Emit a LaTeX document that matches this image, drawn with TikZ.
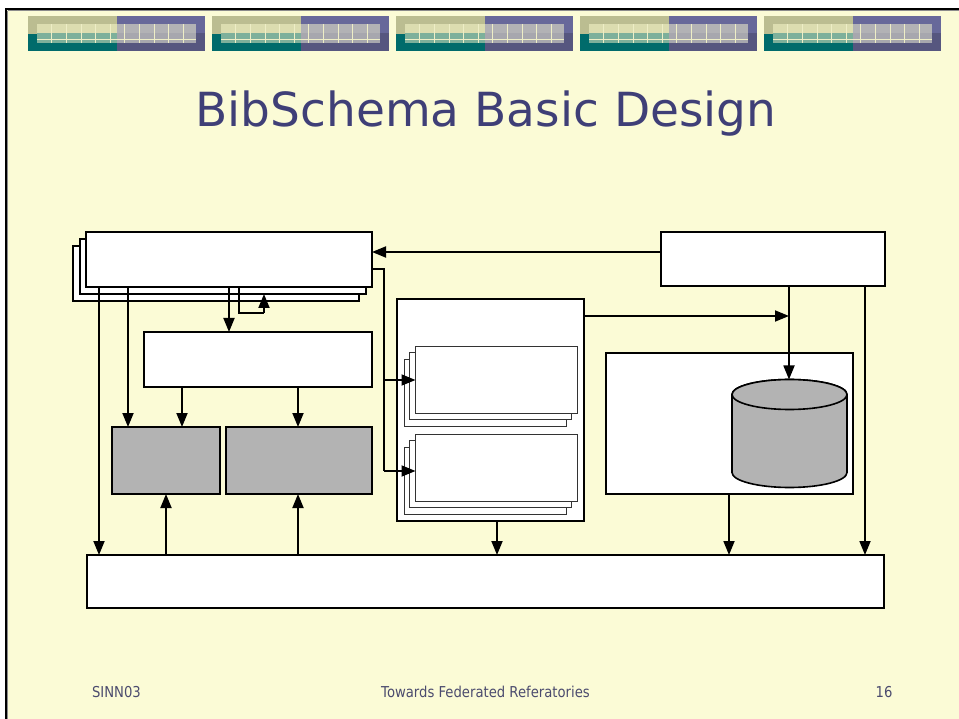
\documentclass[tikz,border=0pt]{standalone}
\usepackage{fontspec}
\setmainfont{DejaVu Sans}
\newfontfamily\altyazi[FakeStretch=0.88]{DejaVu Sans}
\usetikzlibrary{arrows.meta,calc}
\definecolor{zeminSari}{HTML}{FBFBD6}
\definecolor{baslikMavi}{HTML}{3F3F77}
\definecolor{altGri}{HTML}{4B4B6E}
\definecolor{kutuGri}{HTML}{B3B3B3}
\definecolor{haki}{HTML}{BBBD91}
\definecolor{acikHaki}{HTML}{DCDDB0}
\definecolor{petrol}{HTML}{006B6B}
\definecolor{acikPetrol}{HTML}{7DB09B}
\definecolor{mor}{HTML}{67689A}
\definecolor{koyuMor}{HTML}{56567F}
\definecolor{bantGri}{HTML}{B2B2B5}
\definecolor{koyuBantGri}{HTML}{A7A7AE}
\definecolor{cizgiKrem}{HTML}{EEEEC6}
\tikzset{
  kutu/.style={draw, line width=1.9pt, fill=white, anchor=north west, inner sep=0pt, outer sep=0pt},
  ince/.style={draw=black!80, line width=1pt, fill=white, anchor=north west, inner sep=0pt, outer sep=0pt},
  ok/.style={line width=1.8pt, -{Triangle[length=14pt,width=11pt]}},
  hat/.style={line width=1.8pt}
}

\begin{document}
\begin{tikzpicture}[x=1pt,y=-1pt]
\useasboundingbox (0,0) rectangle (959,719);
% zemin ve cerceve
\fill[white] (0,0) rectangle (959,719);
\fill[zeminSari] (7,10) rectangle (959,719);
\fill[black] (5,8) rectangle (959,10.3);
\fill[black] (5,8) rectangle (7.3,719);
\draw[black!45,line width=0.6pt] (7.6,10.6) -- (959,10.6);
\draw[black!45,line width=0.6pt] (7.6,10.6) -- (7.6,719);
% ust bantlar
\foreach \bx in {28,212,396,580,764}{
  \fill[haki] (\bx,16) rectangle ++(89,18);
  \fill[petrol] (\bx,34) rectangle ++(89,17);
  \fill[mor] (\bx+89,16) rectangle ++(88,17);
  \fill[koyuMor] (\bx+89,33) rectangle ++(88,18);
  \fill[acikHaki] (\bx+9,24) rectangle ++(80,9);
  \fill[acikPetrol] (\bx+9,33) rectangle ++(80,10);
  \fill[bantGri] (\bx+89,24) rectangle ++(79,9);
  \fill[koyuBantGri] (\bx+89,33) rectangle ++(79,10);
  \draw[cizgiKrem,line width=0.7pt] (\bx+9,39.5) -- ++(159,0);
  \foreach \k in {1,...,10}
    \draw[cizgiKrem,line width=0.6pt] ({\bx+9+14.6*\k},24) -- ++(0,19);
}
\node[baslikMavi,font=\fontsize{47}{56}\selectfont] (baslik) at (486,114) {BibSchema Basic Design};

% sol ust yigin
\node[kutu, minimum width=286pt, minimum height=55pt] (ust3) at (73,246) {};
\node[kutu, minimum width=286pt, minimum height=55pt] (ust2) at (80,239) {};
\node[kutu, minimum width=286pt, minimum height=55pt] (ust) at (86,232) {};
\node[kutu, minimum width=224pt, minimum height=54pt] (sag) at (661,232) {};
\node[kutu, minimum width=228pt, minimum height=55pt] (orta) at (144,332) {};
\node[kutu, fill=kutuGri, minimum width=108pt, minimum height=67pt] (griA) at (112,427) {};
\node[kutu, fill=kutuGri, minimum width=146pt, minimum height=67pt] (griB) at (226,427) {};
% orta kap
\node[kutu, minimum width=187pt, minimum height=222pt] (kap) at (397,299) {};
\node[ince, minimum width=162pt, minimum height=67pt] (y1c) at (404.5,359.5) {};
\node[ince, minimum width=162pt, minimum height=67pt] (y1b) at (409.5,352.5) {};
\node[ince, minimum width=162pt, minimum height=67pt] (y1a) at (415.5,346.5) {};
\node[ince, minimum width=162pt, minimum height=67pt] (y2c) at (404.5,447.5) {};
\node[ince, minimum width=162pt, minimum height=67pt] (y2b) at (409.5,440.5) {};
\node[ince, minimum width=162pt, minimum height=67pt] (y2a) at (415.5,434.5) {};
% sag kutu ve veritabani
\node[kutu, minimum width=247pt, minimum height=141pt] (depo) at (606,353) {};
\filldraw[fill=kutuGri, line width=1.6pt] (732,394.5) -- (732,472.5)
  arc[start angle=180, end angle=0, x radius=57.5, y radius=15] -- (847,394.5)
  arc[start angle=0, end angle=-180, x radius=57.5, y radius=15] -- cycle;
\filldraw[fill=kutuGri, line width=1.6pt] (789.5,394.5) ellipse[x radius=57.5, y radius=15];
\coordinate (dbUst) at (789,379.5);
\node[kutu, minimum width=797pt, minimum height=53pt] (alt) at (87,555) {};

% baglantilar
\draw[ok] (sag.west |- 0,252) -- (ust.east |- 0,252);
\coordinate (dalUst) at (384,269);
\coordinate (dalAlt) at (384,471);
\draw[hat] (ust.east |- dalUst) -- (dalUst) -- (dalAlt);
\draw[ok] (dalUst |- 0,380) -- (y1a.west |- 0,380);
\draw[ok] (dalAlt) -- (y2a.west |- dalAlt);
\draw[ok] (ust.south -| 99,0) -- (alt.north -| 99,0);
\draw[ok] (ust.south -| 128,0) -- (griA.north -| 128,0);
\draw[ok] (ust.south -| 229,0) -- (orta.north -| 229,0);
\draw[hat] (ust.south -| 239,0) -- (239,313) -- (264,313);
\draw[ok] (264,313) -- (ust2.south -| 264,0);
\draw[ok] (orta.south -| 182,0) -- (griA.north -| 182,0);
\draw[ok] (orta.south -| 298,0) -- (griB.north -| 298,0);
\draw[ok] (alt.north -| 166,0) -- (griA.south -| 166,0);
\draw[ok] (alt.north -| 298,0) -- (griB.south -| 298,0);
\draw[ok] (kap.south -| 497,0) -- (alt.north -| 497,0);
\coordinate (kesisim) at (789,316);
\draw[ok] (kap.east |- kesisim) -- (kesisim);
\draw[ok] (sag.south -| dbUst) -- (dbUst);
\draw[ok] (sag.south -| 865,0) -- (alt.north -| 865,0);
\draw[ok] (depo.south -| 729,0) -- (alt.north -| 729,0);

% alt bilgi
\node[altGri, font=\altyazi\fontsize{15}{18}\selectfont, anchor=west] (sinn) at (88.5,692) {SINN03};
\node[altGri, font=\altyazi\fontsize{15}{18}\selectfont] (konu) at (485.5,692) {Towards Federated Referatories};
\node[altGri, font=\altyazi\fontsize{15}{18}\selectfont] (sayfa) at (884,692) {16};
\end{tikzpicture}
\end{document}
